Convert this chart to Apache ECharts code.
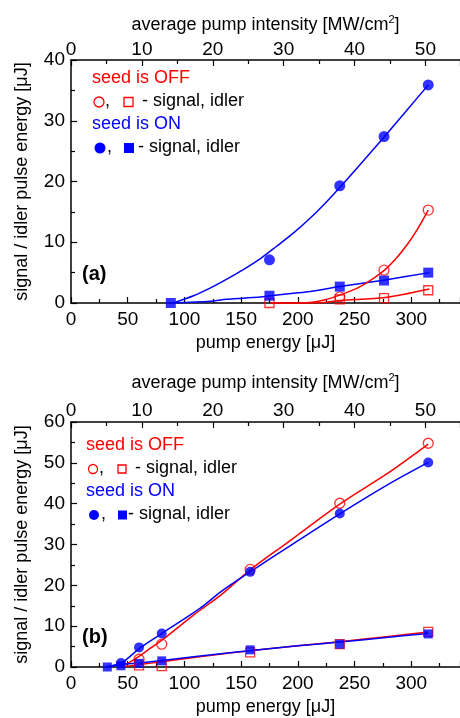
<!DOCTYPE html>
<html>
<head>
<meta charset="utf-8">
<script src="https://cdn.jsdelivr.net/npm/echarts@6/dist/echarts.min.js"></script>
<style>
  html, body { margin: 0; padding: 0; background: #fff; }
  #chart { width: 460px; height: 718px; }
</style>
</head>
<body>
<div id="chart"></div>
<script>
// ---- panel (a) measured points ----
var eSigOffA = [237, 276, 315];
var sigOffA  = [1.0, 5.4, 15.3];
var eIdlOffA = [175, 237, 276, 315];
var idlOffA  = [0, 0.6, 0.8, 2.1];
var eSigOnA  = [175, 237, 276, 315];
var sigOnA   = [7.1, 19.3, 27.4, 35.9];
var eIdlOnA  = [88, 175, 237, 276, 315];
var idlOnA   = [0, 1.2, 2.7, 3.7, 5.0];

// ---- panel (a) fitted curves ----
var fitSigOnA  = [[90,0],[108,1.2],[123,2.5],[137,3.9],[152,5.5],[167,7.3],[181,9.3],[196,11.5],[211,14.0],[225,16.6],[237,19.0],[255,22.8],[276,27.3],[296,31.7],[315,35.9]];
var fitIdlOnA  = [[90,0],[123,0.3],[137,0.6],[152,0.8],[167,1.0],[176,1.2],[196,1.6],[211,1.9],[237,2.7],[277,3.8],[316,5.0]];
var fitSigOffA = [[176,0],[210,0.1],[223,0.5],[237,1.3],[252,2.4],[267,4.1],[277,5.5],[287,7.4],[296,9.5],[305,12],[315,15.3]];
var fitIdlOffA = [[176,0],[205,0],[223,0.1],[237,0.4],[277,0.9],[316,2.3]];

// ---- panel (b) measured points ----
var eSigOffB = [60, 80, 158, 237, 315];
var sigOffB  = [1.9, 5.6, 23.9, 40.1, 54.8];
var eIdlOffB = [60, 80, 158, 237, 315];
var idlOffB  = [0.4, 0.2, 3.6, 5.6, 8.6];
var eSigOnB  = [44, 60, 80, 158, 237, 315];
var sigOnB   = [1.0, 4.8, 8.2, 23.3, 37.6, 50.1];
var eIdlOnB  = [32, 44, 60, 80, 158, 237, 315];
var idlOnB   = [0, 0.3, 0.9, 1.5, 4.2, 5.6, 8.1];

// ---- panel (b) fitted curves ----
var fitSigOnB  = [[31,0],[45,1.1],[61,4.7],[80,8.2],[114,14.4],[132,18.4],[158,23.3],[190,29.1],[237,37.5],[279,44.6],[315,50.1]];
var fitSigOffB = [[43,0],[55,1.7],[70,4.6],[84,7.4],[108,12.7],[132,17.6],[158,23.8],[190,30.3],[237,39.9],[279,47.4],[315,54.6]];
var fitIdlOnB  = [[31,0],[45,0.6],[61,1.0],[80,1.6],[140,3.5],[200,5.2],[237,6.1],[280,7.3],[315,8.2]];
var fitIdlOffB = [[43,0],[61,0.6],[80,1.3],[140,3.4],[200,5.2],[237,6.2],[280,7.5],[315,8.6]];

// axis ranges
var energyMax = 343;
var intensityPerEnergy = 0.16;
var yMaxA = 40, yMaxB = 60;

var RED = '#ff0000', BLUE = '#0000ff';
var FONT = 'Liberation Sans, Arial, sans-serif';
var TICK_FS = 19;

function zip(xs, ys) {
    return xs.map(function (x, i) { return [x, ys[i]]; });
}

function axisBase(extra) {
    var a = {
        type: 'value',
        min: 0,
        splitLine: { show: false },
        axisLine: { show: true, onZero: false, lineStyle: { color: '#000', width: 1.5 } },
        axisTick: { show: true, inside: true, length: 6, lineStyle: { color: '#000', width: 1.2 } },
        minorTick: { show: true, splitNumber: 2, length: 4, lineStyle: { color: '#000', width: 1.2 } },
        nameTextStyle: { color: '#000', fontSize: 18, fontFamily: FONT,
            rich: { s: { fontSize: 11, fontFamily: FONT, color: '#000', padding: [0, 0, 12, 0] } } },
        nameLocation: 'middle'
    };
    for (var k in extra) a[k] = extra[k];
    return a;
}

function label(margin, showMax) {
    return { color: '#000', fontSize: TICK_FS, fontFamily: FONT, showMaxLabel: showMax, margin: margin };
}

function xAxes(grid, topGap, topMargin) {
    return [
        axisBase({ gridIndex: grid, position: 'bottom', max: energyMax, interval: 50,
            name: 'pump energy [μJ]', nameGap: 31, axisLabel: label(7, false) }),
        axisBase({ gridIndex: grid, position: 'top', max: energyMax * intensityPerEnergy, interval: 10,
            name: 'average pump intensity [MW/cm{s|2}]', nameGap: topGap, axisLabel: label(topMargin, false) })
    ];
}

function yAxis(grid, max) {
    return axisBase({ gridIndex: grid, max: max, interval: 10,
        name: 'signal / idler pulse energy [μJ]', nameGap: 40, axisLabel: label(6, true) });
}

function fit(data, color, xi, yi) {
    return { type: 'line', data: data, xAxisIndex: xi, yAxisIndex: yi, smooth: 0.3,
        showSymbol: false, lineStyle: { color: color, width: 1.5 }, silent: true, z: 2 };
}

function pts(data, symbol, size, filled, color, xi, yi) {
    return { type: 'scatter', data: data, xAxisIndex: xi, yAxisIndex: yi,
        symbol: symbol, symbolSize: size, silent: true, z: 3,
        itemStyle: filled ? { color: color } :
            { color: 'rgba(255,255,255,0)', borderColor: color, borderWidth: 1.3 } };
}

function legend(x, y, dy, sz, gap1, gap2) {
    var t = { fontSize: 18, fontFamily: FONT, verticalAlign: 'middle' };
    function txt(left, top, s, color) {
        return { type: 'text', left: left, top: top - 10,
            style: Object.assign({ text: s, fill: color }, t) };
    }
    return [
        txt(x, y, 'seed is OFF', RED),
        { type: 'circle', shape: { cx: x + 7, cy: y + dy, r: sz / 2 },
          style: { fill: 'none', stroke: RED, lineWidth: 1.3 } },
        txt(x + 13, y + dy, ',', '#000'),
        { type: 'rect', shape: { x: x + 32, y: y + dy - sz / 2 + 0.5, width: sz - 1, height: sz - 1 },
          style: { fill: 'none', stroke: RED, lineWidth: 1.3 } },
        txt(x + 32 + sz + gap1, y + dy, '- signal, idler', '#000'),
        txt(x, y + 2 * dy, 'seed is ON', BLUE),
        { type: 'circle', shape: { cx: x + 8, cy: y + 3 * dy, r: sz / 2 + 0.5 },
          style: { fill: BLUE } },
        txt(x + 15, y + 3 * dy, ',', '#000'),
        { type: 'rect', shape: { x: x + 32, y: y + 3 * dy - sz / 2, width: sz, height: sz },
          style: { fill: BLUE } },
        txt(x + 32 + sz + gap2, y + 3 * dy, '- signal, idler', '#000')
    ];
}

var chart = echarts.init(document.getElementById('chart'), null, { renderer: 'canvas' });

var option = {
    animation: false,
    backgroundColor: '#fff',
    grid: [
        { left: 71, top: 60, width: 389, height: 243, outerBoundsMode: 'none', containLabel: false },
        { left: 71, top: 422, width: 389, height: 245, outerBoundsMode: 'none', containLabel: false }
    ],
    xAxis: xAxes(0, 23, 1).concat(xAxes(1, 27, 2)),
    yAxis: [yAxis(0, yMaxA), yAxis(1, yMaxB)],
    graphic: legend(92, 79, 23, 10, 8, 4).concat(legend(86, 446, 23, 9, 8, 1)).concat([
        { type: 'text', left: 82, top: 264, style: { text: '(a)', fill: '#000', fontSize: 20, fontWeight: 'bold', fontFamily: FONT } },
        { type: 'text', left: 82, top: 627, style: { text: '(b)', fill: '#000', fontSize: 20, fontWeight: 'bold', fontFamily: FONT } }
    ]),
    series: [
        fit(fitSigOnA, BLUE, 0, 0),
        fit(fitIdlOnA, BLUE, 0, 0),
        fit(fitSigOffA, RED, 0, 0),
        fit(fitIdlOffA, RED, 0, 0),
        pts(zip(eSigOffA, sigOffA), 'circle', 10, false, RED, 0, 0),
        pts(zip(eIdlOffA, idlOffA), 'rect', 9, false, RED, 0, 0),
        pts(zip(eSigOnA, sigOnA), 'circle', 11, true, BLUE, 0, 0),
        pts(zip(eIdlOnA, idlOnA), 'rect', 10, true, BLUE, 0, 0),

        fit(fitSigOffB, RED, 2, 1),
        fit(fitIdlOffB, RED, 2, 1),
        fit(fitSigOnB, BLUE, 2, 1),
        fit(fitIdlOnB, BLUE, 2, 1),
        pts(zip(eSigOffB, sigOffB), 'circle', 10, false, RED, 2, 1),
        pts(zip(eIdlOffB, idlOffB), 'rect', 9, false, RED, 2, 1),
        pts(zip(eSigOnB, sigOnB), 'circle', 10, true, BLUE, 2, 1),
        pts(zip(eIdlOnB, idlOnB), 'rect', 9, true, BLUE, 2, 1)
    ]
};

chart.setOption(option);
</script>
</body>
</html>
